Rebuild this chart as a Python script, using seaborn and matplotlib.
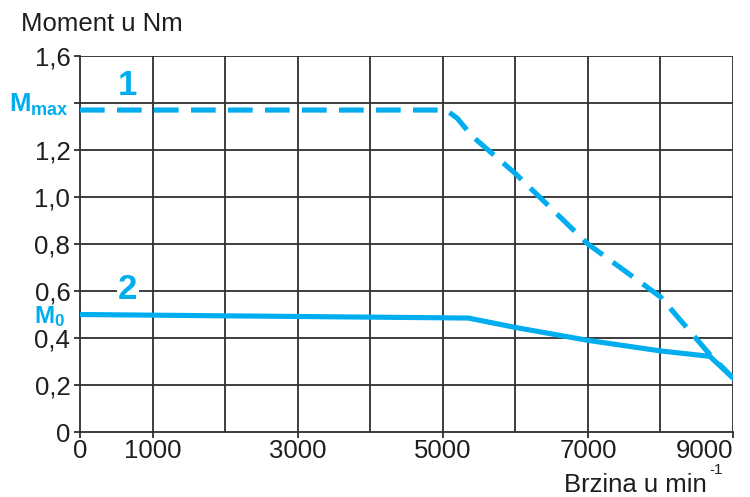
import matplotlib
matplotlib.use("Agg")
import matplotlib.pyplot as plt
import seaborn as sns
import pandas as pd

# Torque curves of the motor (speed in min^-1, torque in Nm)
speed_1 = [0, 5000, 5080, 5200, 5400, 6000, 7000, 8000, 8680, 9000]
torque_1 = [1.37, 1.37, 1.362, 1.335, 1.26, 1.10, 0.80, 0.575, 0.33, 0.23]

speed_2 = [0, 5350, 6000, 7000, 8000, 8680, 9000]
torque_2 = [0.50, 0.485, 0.445, 0.39, 0.345, 0.322, 0.23]

x_ticks = [0, 1000, 3000, 5000, 7000, 9000]
x_labels = ["0", "1000", "3000", "5000", "7000", "9000"]
y_ticks = [0, 0.2, 0.4, 0.6, 0.8, 1.0, 1.2, 1.4, 1.6]
y_labels = ["0", "0,2", "0,4", "0,6", "0,8", "1,0", "1,2", "", "1,6"]

BLUE = "#00AEEF"
INK = "#1e1e1e"
GRID = "#2e2e2e"
FS = 18.5

sns.set_theme(style="white")
plt.rcParams["font.family"] = ["Liberation Sans", "DejaVu Sans"]
plt.rcParams["mathtext.fontset"] = "custom"
plt.rcParams["mathtext.rm"] = "Liberation Sans"
plt.rcParams["mathtext.bf"] = "Liberation Sans:bold"

fig = plt.figure(figsize=(7.5, 4.97), dpi=100)
ax = fig.add_axes([80 / 750, 1 - 432 / 497, 653 / 750, 376 / 497])

df1 = pd.DataFrame({"speed": speed_1, "torque": torque_1})
df2 = pd.DataFrame({"speed": speed_2, "torque": torque_2})

sns.lineplot(data=df1, x="speed", y="torque", ax=ax, color=BLUE, lw=3.7,
             zorder=4, solid_joinstyle="round")
ax.lines[-1].set_linestyle((0, (4.8, 2.4)))
ax.lines[-1].set_dash_capstyle("butt")
sns.lineplot(data=df2, x="speed", y="torque", ax=ax, color=BLUE, lw=3.7,
             zorder=4, solid_joinstyle="round")

ax.set_xlim(0, 9000)
ax.set_ylim(0, 1.6)

# grid every 1000 min^-1 and every 0.2 Nm
for gx in range(1000, 9001, 1000):
    ax.axvline(gx, color=GRID, lw=1.3, zorder=1)
for gy in y_ticks[1:]:
    ax.axhline(gy, color=GRID, lw=1.3, zorder=1)

for side in ["top", "right"]:
    ax.spines[side].set_visible(False)
for side in ["left", "bottom"]:
    ax.spines[side].set_color(GRID)
    ax.spines[side].set_linewidth(1.3)

ax.set_xticks(x_ticks)
ax.set_xticklabels(x_labels)
ax.set_yticks(y_ticks)
ax.set_yticklabels(y_labels)
ax.tick_params(axis="both", which="both", direction="out", length=4, width=1.3,
               color=GRID, labelsize=FS, labelcolor=INK, pad=3,
               bottom=True, left=True)
ax.tick_params(axis="x", pad=1)
ax.get_xticklabels()[-1].set_horizontalalignment("right")
ax.get_xticklabels()[-1].set_x(9000)
ax.set_xlabel("")
ax.set_ylabel("")

# axis titles
fig.text(21 / 750, 1 - 24 / 497, "Moment u Nm", fontsize=FS, color=INK,
         ha="left", va="center")
fig.text(707 / 750, 1 - 485 / 497, "Brzina u min", fontsize=FS, color=INK,
         ha="right", va="center")
fig.text(709 / 750, 1 - 470 / 497, "-1", fontsize=11, color=INK,
         ha="left", va="center")

# torque markers on the left axis
ax.text(-0.018, 1.39, r"$\mathbf{M_{max}}$", transform=ax.get_yaxis_transform(),
        fontsize=18.5, color=BLUE, ha="right", va="center", clip_on=False)
ax.text(-0.022, 0.49, r"$\mathbf{M_{0}}$", transform=ax.get_yaxis_transform(),
        fontsize=17.5, color=BLUE, ha="right", va="center", clip_on=False)

# curve numbers
ax.text(660, 1.475, "1", fontsize=25, fontweight="bold", color=BLUE,
        ha="center", va="center", zorder=5)
ax.text(660, 0.605, "2", fontsize=25, fontweight="bold", color=BLUE,
        ha="center", va="center", zorder=5,
        bbox=dict(facecolor="white", edgecolor="none", pad=1.0))

fig.savefig("out.png", dpi=100)
